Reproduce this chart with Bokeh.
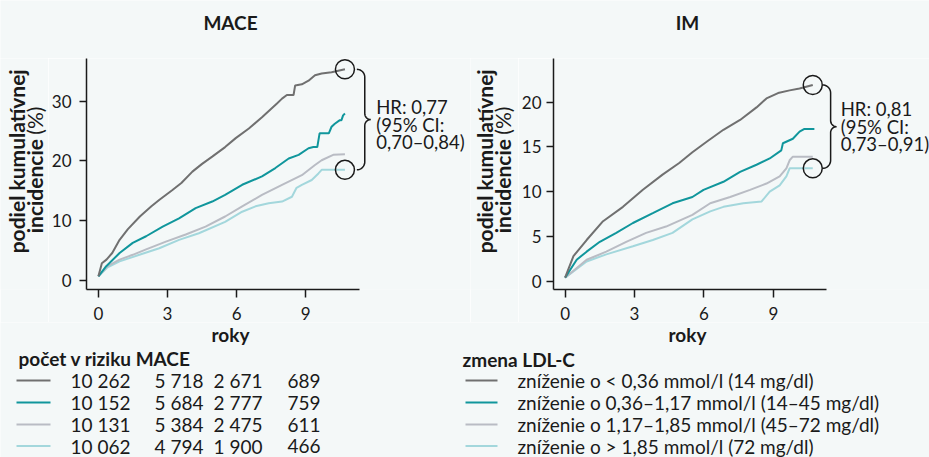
import numpy as np
from bokeh.plotting import figure
from bokeh.models import Range1d, FixedTicker
from bokeh.layouts import column, row
from bokeh.embed import file_html
from bokeh.resources import INLINE
from bokeh.core.properties import value

FONT = "Lato"
BG = "#f4f8f8"
INK = "#1a1a1a"
COLORS = ["#707070", "#10969c", "#b9bcc4", "#a3d7dc"]

# ---------------- data ----------------
x_ticks = [0, 3, 6, 9]
mace_y_ticks = [0, 10, 20, 30]
im_y_ticks = [0, 5, 10, 15, 20]

# MACE (cumulative incidence, %)
mace_t_g1 = [0, 0.15, 0.35, 0.6, 0.92, 1.28, 1.8, 2.3, 2.65, 3.2, 3.6, 4.08, 4.5, 4.94, 5.5, 5.96, 6.53, 7.1, 7.75, 7.97, 8.18, 8.47, 8.54, 8.83, 9.12, 9.4, 9.69, 10.12, 10.7]
mace_v_g1 = [0.7, 2.9, 3.5, 4.6, 6.8, 8.6, 10.7, 12.4, 13.5, 15.1, 16.3, 18.2, 19.5, 20.7, 22.3, 23.8, 25.4, 27.3, 29.6, 30.4, 31.0, 31.0, 32.6, 32.8, 33.4, 34.3, 34.6, 34.8, 35.3]
mace_t_g2 = [0, 0.34, 0.92, 1.49, 2.07, 2.79, 3.5, 4.22, 4.94, 5.5, 6.24, 7.1, 7.68, 8.26, 8.69, 9.12, 9.33, 9.5, 9.6, 10.0, 10.12, 10.26, 10.48, 10.55, 10.62, 10.7]
mace_v_g2 = [0.7, 2.4, 4.6, 6.3, 7.4, 9.0, 10.4, 12.1, 13.2, 14.3, 16.0, 17.4, 18.8, 20.4, 21.0, 22.1, 22.3, 22.3, 24.6, 24.6, 25.7, 26.2, 26.8, 26.8, 27.6, 27.9]
mace_t_g3 = [0, 0.4, 0.92, 1.49, 2.07, 2.93, 3.79, 4.65, 5.5, 6.24, 7.1, 7.97, 8.83, 9.4, 9.69, 10.19, 10.7]
mace_v_g3 = [0.7, 2.4, 3.5, 4.3, 5.2, 6.5, 7.7, 9.0, 10.7, 12.4, 14.3, 16.0, 17.6, 19.3, 20.1, 21.0, 21.1]
mace_t_g4 = [0, 0.4, 0.92, 1.78, 2.64, 3.5, 4.36, 5.5, 6.24, 6.82, 7.39, 7.97, 8.4, 8.6, 8.83, 9.26, 9.55, 9.69, 10.7]
mace_v_g4 = [0.7, 2.2, 3.2, 4.3, 5.4, 6.8, 7.9, 9.8, 11.5, 12.4, 12.9, 13.2, 14.0, 15.5, 16.0, 16.8, 17.9, 18.5, 18.5]

# IM (cumulative incidence, %)
im_t_g1 = [0, 0.36, 0.93, 1.64, 2.5, 3.36, 4.21, 4.93, 5.5, 6.13, 6.84, 7.56, 8.27, 8.7, 9.2, 9.7, 10.13, 10.7]
im_v_g1 = [0.4, 2.8, 4.6, 6.7, 8.3, 10.2, 11.9, 13.2, 14.4, 15.6, 16.9, 18.0, 19.4, 20.4, 21.0, 21.3, 21.5, 21.9]
im_t_g2 = [0, 0.5, 0.93, 1.5, 2.21, 2.93, 3.79, 4.64, 5.5, 5.98, 6.84, 7.56, 8.27, 8.84, 9.34, 9.41, 9.84, 10.13, 10.34, 10.77]
im_v_g2 = [0.4, 2.4, 3.3, 4.4, 5.4, 6.5, 7.6, 8.7, 9.4, 10.2, 11.1, 12.2, 13.0, 13.7, 14.6, 15.4, 15.9, 16.7, 17.0, 17.0]
im_t_g3 = [0, 0.93, 1.78, 2.64, 3.5, 4.36, 5.5, 6.27, 7.13, 7.99, 8.7, 9.27, 9.56, 9.7, 9.84, 10.7]
im_v_g3 = [0.4, 2.4, 3.3, 4.4, 5.4, 6.1, 7.4, 8.7, 9.4, 10.2, 10.9, 11.7, 12.6, 13.5, 13.9, 13.9]
im_t_g4 = [0, 0.93, 1.78, 2.93, 3.79, 4.64, 5.5, 6.27, 6.84, 7.7, 8.49, 8.84, 9.27, 9.56, 9.7, 10.7]
im_v_g4 = [0.4, 2.2, 3.0, 3.9, 4.6, 5.4, 6.9, 7.8, 8.3, 8.7, 8.9, 10.0, 10.7, 11.7, 12.6, 12.6]

mace_hr = ["HR: 0,77", "(95% CI:", "0,70\u20130,84)"]
im_hr = ["HR: 0,81", "(95% CI:", "0,73\u20130,91)"]

titles = ["MACE", "IM"]
x_label = "roky"
y_label_1 = "podiel kumulatívnej"
y_label_2 = "incidencie"
y_label_unit = "(%)"

risk_title = "počet v riziku MACE"
risk_g1 = ["10 262", "5 718", "2 671", "689"]
risk_g2 = ["10 152", "5 684", "2 777", "759"]
risk_g3 = ["10 131", "5 384", "2 475", "611"]
risk_g4 = ["10 062", "4 794", "1 900", "466"]

legend_title = "zmena LDL-C"
legend_labels = [
    "zníženie o < 0,36 mmol/l (14 mg/dl)",
    "zníženie o 0,36\u20131,17 mmol/l (14\u201345 mg/dl)",
    "zníženie o 1,17\u20131,85 mmol/l (45\u201372 mg/dl)",
    "zníženie o > 1,85 mmol/l (72 mg/dl)",
]

W, H = 929, 457
ROW_TOP, ROW_BOT = 58, 322       # page y of middle row
FR_TOP, FR_BOT = 58, 290         # page y of plot frames
TXT = "19px"


def blank(x0, x1, y0, y1):
    f = figure(width=x1 - x0, height=y1 - y0, x_range=Range1d(x0, x1), y_range=Range1d(y1, y0),
               toolbar_location=None, output_backend="svg", min_border=0,
               x_axis_type=None, y_axis_type=None,
               background_fill_color=BG, border_fill_color=BG, outline_line_color=None)
    f.grid.visible = False
    return f


def txt(f, x, y, text, size=TXT, style="normal", align="left", angle=0.0, baseline="middle"):
    f.text([x], [y], text=[text], text_font=value(FONT), text_font_size=size,
           text_font_style=style, text_color=INK, text_align=align,
           text_baseline=baseline, angle=angle)


def panel(series, yticks, hr, fig_left, fl, fr, t0, kx, v0, ky, axis_end, hook, hr_x, hr_y, ystand):
    X = lambda xp: (xp - t0) / kx
    Y = lambda yp: (v0 - yp) / ky
    p = figure(width=fr - fig_left, height=ROW_BOT - ROW_TOP,
               x_range=Range1d(X(fl), X(fr)), y_range=Range1d(Y(FR_BOT), Y(FR_TOP)),
               min_border_left=fl - fig_left, min_border_right=0,
               min_border_top=FR_TOP - ROW_TOP, min_border_bottom=ROW_BOT - FR_BOT,
               toolbar_location=None, output_backend="svg",
               background_fill_color=BG, border_fill_color=BG, outline_line_color=None)
    p.grid.visible = False
    for ax in (p.xaxis[0], p.yaxis[0]):
        ax.axis_line_color = INK
        ax.axis_line_width = 1.5
        ax.major_tick_line_color = INK
        ax.major_tick_line_width = 1.5
        ax.minor_tick_line_color = None
        ax.major_tick_in = 0
        ax.major_label_text_font = FONT
        ax.major_label_text_font_size = "17px"
        ax.major_label_text_color = INK
    p.xaxis.ticker = FixedTicker(ticks=x_ticks)
    p.xaxis.major_tick_out = 8
    p.xaxis.major_label_standoff = 9
    p.xaxis.bounds = (X(fl), X(axis_end))
    p.yaxis.ticker = FixedTicker(ticks=yticks)
    p.yaxis.major_tick_out = 7
    p.yaxis.major_label_standoff = ystand

    for (t, v), c in list(zip(series, COLORS))[::-1]:
        p.line(t, v, line_color=c, line_width=2)

    top_t, top_v = series[0][0][-1], series[0][1][-1]
    bot_t, bot_v = series[3][0][-1], series[3][1][-1]
    p.scatter([top_t, bot_t], [top_v, bot_v], marker="circle", size=19,
              fill_color=None, line_color=INK, line_width=1.5)

    # curly brace joining the two circles (pixel offsets converted to data)
    cx = t0 + kx * top_t
    yt = v0 - ky * top_v
    yb = v0 - ky * bot_v
    ym = (yt + yb) / 2
    xh = cx + hook
    r, r2 = 8, 6
    xv = xh + r
    a = np.linspace(0, np.pi / 2, 12)
    a2 = a[::-1]
    xs = list(xh + r * np.sin(a)); ys = list(yt + r - r * np.cos(a))
    xs += list(xv + r2 - r2 * np.cos(a)); ys += list(ym - r2 + r2 * np.sin(a))
    xs += list(xv + r2 - r2 * np.cos(a2)); ys += list(ym + r2 - r2 * np.sin(a2))
    xs += list(xh + r * np.cos(a)); ys += list(yb - r + r * np.sin(a))
    p.line([X(x) for x in xs], [Y(y) for y in ys], line_color=INK, line_width=1.5)

    p.text([X(hr_x)] * 3, [Y(hr_y + d) for d in (-17.5, 0, 17.5)], text=hr,
           text_font=value(FONT), text_font_size="18.5px", text_color=INK,
           text_align="left", text_baseline="middle")
    return p


mace_series = [(mace_t_g1, mace_v_g1), (mace_t_g2, mace_v_g2), (mace_t_g3, mace_v_g3), (mace_t_g4, mace_v_g4)]
im_series = [(im_t_g1, im_v_g1), (im_t_g2, im_v_g2), (im_t_g3, im_v_g3), (im_t_g4, im_v_g4)]

# ---- top strip with titles ----
top = blank(0, W, 0, ROW_TOP)
txt(top, 230, 21.7, titles[0], style="bold", align="center")
txt(top, 687, 21.7, titles[1], style="bold", align="center")

# ---- y-axis label strips (anchors of the two rotated lines) ----
def ylab(x0, x1, b1, b2):
    f = blank(x0, x1, ROW_TOP, ROW_BOT)
    txt(f, b1, 175.5, y_label_1, size="21px", style="bold", align="center", angle=np.pi / 2, baseline="alphabetic")
    txt(f, b2, 150, y_label_2, size="21px", style="bold", align="right", angle=np.pi / 2, baseline="alphabetic")
    txt(f, b2, 145, y_label_unit, size="21px", align="left", angle=np.pi / 2, baseline="alphabetic")
    return f

yl_L = ylab(0, 48, 15.5, 33.5)
pL = panel(mace_series, mace_y_ticks, mace_hr, 48, 83, 470, 95.0, 23.22, 281.0, 6.01, 358, 12, 375, 124.5, 8)
yl_R = ylab(470, 518, 484, 502)
pR = panel(im_series, im_y_ticks, im_hr, 518, 550, W, 561.7, 23.33, 281.7, 9.0, 825, 10, 839.5, 126.7, 5)

# ---- bottom: x labels, numbers at risk, legend ----
tbl = blank(0, W, ROW_BOT, H)
txt(tbl, 230, 334, x_label, style="bold", align="center")
txt(tbl, 687, 334, x_label, style="bold", align="center")
txt(tbl, 18, 357.5, risk_title, style="bold")
txt(tbl, 462, 359, legend_title, style="bold")
rows_y = [380, 402, 424, 445.5]
col_x = [70, 154, 213, 287]
for yy, c, vals, lbl in zip(rows_y, COLORS, [risk_g1, risk_g2, risk_g3, risk_g4], legend_labels):
    tbl.segment(x0=[16, 465], y0=[yy, yy], x1=[50, 497], y1=[yy, yy], line_color=c, line_width=2)
    tbl.text(col_x, [yy] * 4, text=vals, text_font=value(FONT), text_font_size=TXT,
             text_color=INK, text_baseline="middle")
    txt(tbl, 517, yy, lbl)

layout = column(top, row(yl_L, pL, yl_R, pR), tbl)
open("out.html", "w").write(file_html(layout, INLINE))
